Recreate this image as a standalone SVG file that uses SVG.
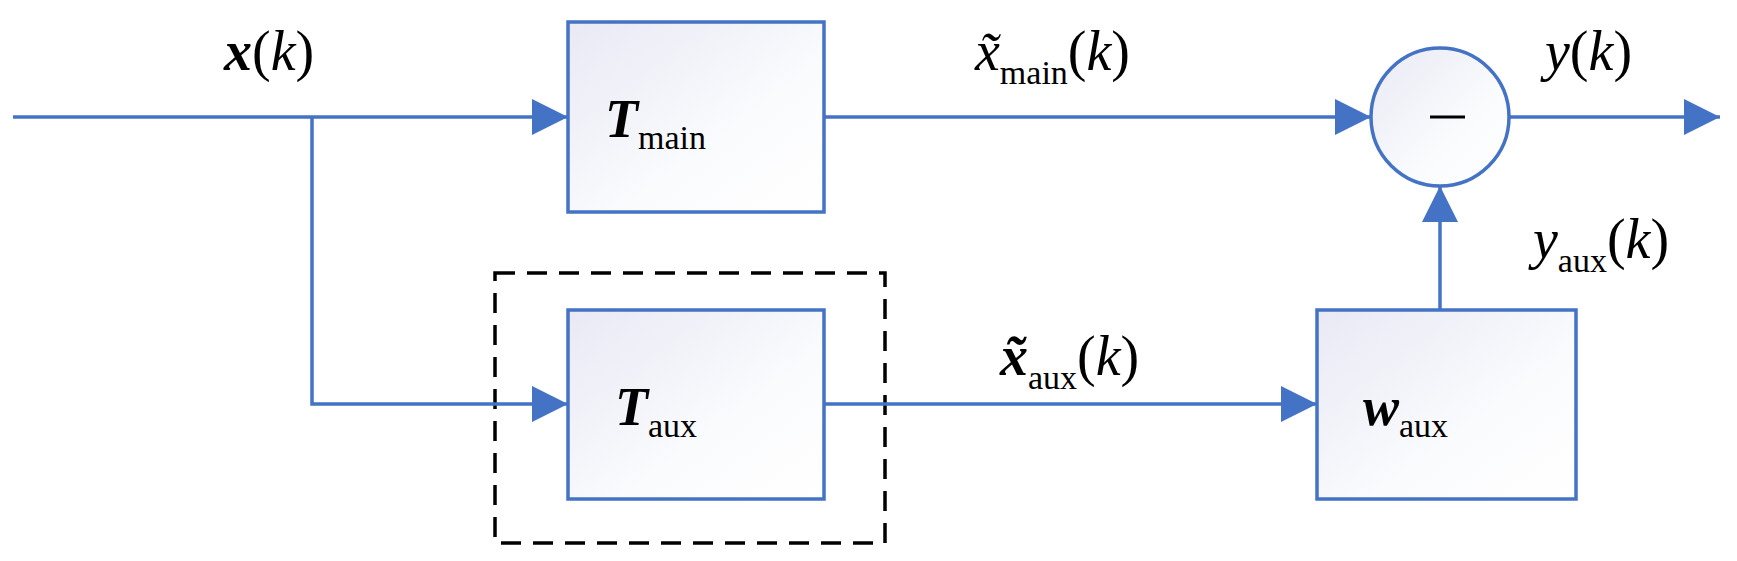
<svg xmlns="http://www.w3.org/2000/svg" width="1737" height="561" viewBox="0 0 1737 561">
<defs>
<linearGradient id="g" x1="0" y1="0" x2="1" y2="1"><stop offset="0" stop-color="#e8e9f4"/><stop offset="0.6" stop-color="#fafbfd"/><stop offset="1" stop-color="#ffffff"/></linearGradient>
<marker id="b" viewBox="0 0 36 36" refX="36" refY="18" markerWidth="36" markerHeight="36" markerUnits="userSpaceOnUse" orient="auto"><path d="M0,0 L36,18 L0,36 z" fill="#4472c4"/></marker>
</defs>
<style>
.n{fill:url(#g);stroke:#4472c4;stroke-width:3.5}
.c{fill:none;stroke:#4472c4;stroke-width:3.5}
text{font-family:"Liberation Serif",serif;fill:#000}
.big{font-size:54px}
.sub{font-size:34px}
</style>
<rect x="495" y="273" width="390" height="270" fill="none" stroke="#000" stroke-width="3.5" stroke-dasharray="20,12"/>
<g id="Tmain"><rect class="n" x="568" y="22" width="256" height="190"/><text x="605" y="137" class="big" font-style="italic" font-weight="bold">T<tspan class="sub" font-style="normal" font-weight="normal" dy="12">main</tspan></text></g>
<g id="Taux"><rect class="n" x="568" y="310" width="256" height="189"/><text x="615" y="425" class="big" font-style="italic" font-weight="bold">T<tspan class="sub" font-style="normal" font-weight="normal" dy="12">aux</tspan></text></g>
<g id="waux"><rect class="n" x="1317" y="310" width="259" height="189"/><text x="1363" y="425" class="big" font-style="italic" font-weight="bold">w<tspan class="sub" font-style="normal" font-weight="normal" dy="12">aux</tspan></text></g>
<g id="sum"><circle class="n" cx="1440" cy="117" r="69"/><line x1="1430" y1="117" x2="1465" y2="117" stroke="#000" stroke-width="3"/></g>
<g id="connectors">
<path class="c" d="M13,117 H568" marker-end="url(#b)"/>
<path class="c" d="M312,117 V404 H568" marker-end="url(#b)"/>
<path class="c" d="M824,117 H1371" marker-end="url(#b)"/>
<path class="c" d="M824,404 H1317" marker-end="url(#b)"/>
<path class="c" d="M1440,310 V186" marker-end="url(#b)"/>
<path class="c" d="M1509,117 H1720" marker-end="url(#b)"/>
</g>
<g id="labels" class="big">
<text x="224" y="70" font-size="56"><tspan font-style="italic" font-weight="bold">x</tspan>(<tspan font-style="italic">k</tspan>)</text>
<text x="975" y="70" font-size="56"><tspan font-style="italic">x̃</tspan><tspan font-size="34" dy="14">main</tspan><tspan dy="-14">(</tspan><tspan font-style="italic">k</tspan>)</text>
<text x="1545" y="70" font-size="56"><tspan font-style="italic">y</tspan>(<tspan font-style="italic">k</tspan>)</text>
<text x="1533" y="258" font-size="56"><tspan font-style="italic">y</tspan><tspan font-size="34" dy="14">aux</tspan><tspan dy="-14">(</tspan><tspan font-style="italic">k</tspan>)</text>
<text x="1000" y="375" font-size="56"><tspan font-style="italic" font-weight="bold">x̃</tspan><tspan font-size="34" dy="14">aux</tspan><tspan dy="-14">(</tspan><tspan font-style="italic">k</tspan>)</text>
</g>
</svg>
